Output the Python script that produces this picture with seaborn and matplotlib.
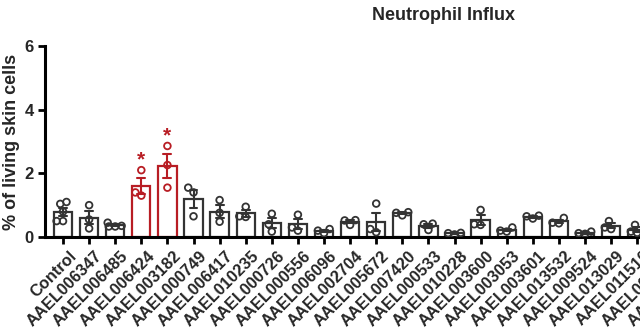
import matplotlib
matplotlib.use("Agg")
import matplotlib.pyplot as plt
import matplotlib.transforms as mtransforms
import seaborn as sns
import pandas as pd

genes = ["Control", "AAEL006347", "AAEL006485", "AAEL006424", "AAEL003182",
         "AAEL000749", "AAEL006417", "AAEL010235", "AAEL000726", "AAEL000556",
         "AAEL006096", "AAEL002704", "AAEL005672", "AAEL007420", "AAEL000533",
         "AAEL010228", "AAEL003600", "AAEL003053", "AAEL003601", "AAEL013532",
         "AAEL009524", "AAEL013029", "AAEL011510", "AAEL001000", "AAEL001001"]

replicates = [
    [1.10, 1.04, 0.80, 0.50, 0.50],
    [1.00, 0.55, 0.27],
    [0.45, 0.35, 0.33, 0.33],
    [2.10, 1.40, 1.30],
    [2.86, 2.26, 1.55],
    [1.55, 1.40, 0.65],
    [1.16, 0.76, 0.48],
    [0.95, 0.65, 0.63],
    [0.73, 0.40, 0.17],
    [0.70, 0.30, 0.20],
    [0.25, 0.20, 0.12],
    [0.53, 0.52, 0.38],
    [1.05, 0.25, 0.15],
    [0.78, 0.76, 0.68],
    [0.42, 0.40, 0.22],
    [0.13, 0.12, 0.08],
    [0.85, 0.40, 0.38],
    [0.30, 0.20, 0.17],
    [0.67, 0.65, 0.58],
    [0.60, 0.45, 0.43],
    [0.17, 0.12, 0.10],
    [0.50, 0.30, 0.25],
    [0.38, 0.17, 0.13],
    [0.30, 0.25, 0.20],
    [0.30, 0.25, 0.20],
]

significant = ["AAEL006424", "AAEL003182"]
y_ticks = [0, 2, 4, 6]

RED = "#B81D24"
GRAY = "#333333"

rows = []
for g, vals in zip(genes, replicates):
    for v in vals:
        rows.append({"gene": g, "value": v})
df = pd.DataFrame(rows)
palette = {g: (RED if g in significant else GRAY) for g in genes}

sns.set_style("ticks")
plt.rcParams["font.family"] = ["Liberation Sans", "DejaVu Sans"]
plt.rcParams["font.weight"] = "bold"

fig = plt.figure(figsize=(6.4, 3.3), dpi=100)
ax_left = 45 / 640
unit_px = 26.1
xmin, xmax = -0.69, 24.6
ax_w = (xmax - xmin) * unit_px / 640
ax = fig.add_axes([ax_left, 93 / 330, ax_w, 191 / 330])

sns.barplot(data=df, x="gene", y="value", hue="gene", order=genes,
            hue_order=genes, palette=palette, fill=False, errorbar="se",
            capsize=0.3, err_kws={"linewidth": 1.5}, linewidth=1.6,
            width=0.7, legend=False, ax=ax)
sns.swarmplot(data=df, x="gene", y="value", hue="gene", order=genes,
              hue_order=genes, palette=palette, size=4.8, linewidth=1.3,
              legend=False, ax=ax, warn_thresh=1.0)

for g in significant:
    i = genes.index(g)
    top = max(replicates[i])
    ax.text(i, top + 0.02, "*", color=RED, ha="center", va="bottom",
            fontsize=15, fontweight="bold")

ax.set_xlim(xmin, xmax)
ax.set_ylim(0, 6)
ax.set_yticks(y_ticks)
ax.set_xlabel("")
ax.set_ylabel("% of living skin cells", fontsize=13, fontweight="bold")
ax.yaxis.set_label_coords(-0.038, 0.5)
sns.despine(ax=ax)
for s in ["left", "bottom"]:
    ax.spines[s].set_linewidth(2.2)
    ax.spines[s].set_color("black")
ax.tick_params(axis="both", length=5, width=2, color="black")
ax.tick_params(axis="y", labelsize=12, pad=3)
ax.tick_params(axis="x", labelsize=11.8, pad=3)
for lbl in ax.get_yticklabels():
    lbl.set_fontweight("bold")
offset = mtransforms.ScaledTranslation(4 / 72, 0, fig.dpi_scale_trans)
for lbl in ax.get_xticklabels():
    lbl.set_rotation(45)
    lbl.set_ha("right")
    lbl.set_va("top")
    lbl.set_rotation_mode("anchor")
    lbl.set_fontweight("bold")
    lbl.set_transform(lbl.get_transform() + offset)

fig.text(443 / 640, 1 - 16 / 330, "Neutrophil Influx", ha="center",
         va="center", fontsize=13, fontweight="bold")

# let seaborn place the swarm, then freeze and tighten the clusters
fig.canvas.draw()
for coll in ax.collections:
    if "draw" in coll.__dict__:
        del coll.__dict__["draw"]
    fc = coll.get_facecolors()
    coll.set_edgecolors(fc)
    coll.set_facecolors("none")
    offs = coll.get_offsets()
    if len(offs):
        offs = offs.copy()
        centers = offs[:, 0].round()
        offs[:, 0] = centers + (offs[:, 0] - centers) * 0.72
        coll.set_offsets(offs)

fig.savefig("out.png", dpi=100)
